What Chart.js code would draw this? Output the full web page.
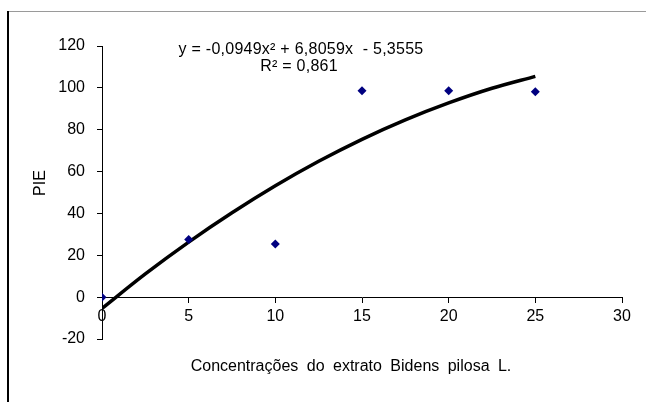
<!DOCTYPE html>
<html>
<head>
<meta charset="utf-8">
<script src="https://cdn.jsdelivr.net/npm/chart.js@4"></script>
<style>
  html, body { margin: 0; padding: 0; background: #fff; }
  #wrap { width: 646px; height: 402px; position: relative; }
</style>
</head>
<body>
<div id="wrap"><canvas id="pieChart" width="646" height="402"></canvas></div>
<script>
// observed PIE values per concentration
const concentrations = [0, 5, 10, 15, 20, 25];
const pieValues = [0, 27.6, 25.4, 98.6, 98.6, 98.1];

// polynomial trendline
const trendX = [0, 2.5, 5, 7.5, 10, 12.5, 15, 17.5, 20, 22.5, 25];
const trendY = [-5.4, 11.1, 26.3, 40.3, 53.2, 64.9, 75.4, 84.7, 92.8, 99.8, 105.5];

const xTicks = [0, 5, 10, 15, 20, 25, 30];
const yTicks = [-20, 0, 20, 40, 60, 80, 100, 120];

const equationText = "y = -0,0949x² + 6,8059x  - 5,3555";
const r2Text = "R² = 0,861";
const xTitle = "Concentrações do extrato Bidens pilosa L.";
const yTitle = "PIE";

const FONT = "'Liberation Sans', Arial, sans-serif";

const pointsData = concentrations.map((x, i) => ({ x: x, y: pieValues[i] }));
const trendData = trendX.map((x, i) => ({ x: x, y: trendY[i] }));

const extras = {
    id: "extras",
    beforeDraw(chart) {
        const ctx = chart.ctx;
        ctx.save();
        ctx.fillStyle = "#fff";
        ctx.fillRect(0, 0, chart.width, chart.height);
        // frame bits
        ctx.strokeStyle = "#9a9a9a";
        ctx.lineWidth = 1;
        ctx.beginPath();
        ctx.moveTo(8, 11.5);
        ctx.lineTo(chart.width, 11.5);
        ctx.stroke();
        ctx.strokeStyle = "#000";
        ctx.lineWidth = 2;
        ctx.beginPath();
        ctx.moveTo(8, 11);
        ctx.lineTo(8, chart.height);
        ctx.stroke();
        ctx.restore();
    },
    afterDraw(chart) {
        const ctx = chart.ctx;
        const area = chart.chartArea;
        ctx.save();
        ctx.fillStyle = "#000";
        ctx.font = "16px " + FONT;
        ctx.textAlign = "center";
        ctx.textBaseline = "middle";
        if ("letterSpacing" in ctx) ctx.letterSpacing = "0.25px";
        ctx.fillText(equationText, area.left + 199, area.top + 4);
        ctx.fillText(r2Text, area.left + 197, area.top + 21);
        if ("letterSpacing" in ctx) ctx.letterSpacing = "0px";
        // y axis title
        ctx.save();
        ctx.translate(41, 183);
        ctx.rotate(-Math.PI / 2);
        ctx.fillText(yTitle, 0, 0);
        ctx.restore();
        if ("wordSpacing" in ctx) ctx.wordSpacing = "4px";
        ctx.fillText(xTitle, 351, area.bottom + 28);
        ctx.restore();
    }
};

new Chart(
    document.getElementById("pieChart"),
    {
        type: "scatter",

        data: {
            datasets: [
                {
                    label: "PIE",
                    data: pointsData,
                    pointStyle: "rectRot",
                    pointRadius: 4.5,
                    backgroundColor: "#000080",
                    borderColor: "#000080",
                    borderWidth: 0,
                    order: 1
                },
                {
                    label: "Polinomial",
                    data: trendData,
                    showLine: true,
                    borderColor: "#000",
                    borderWidth: 3.5,
                    pointRadius: 0,
                    cubicInterpolationMode: "monotone",
                    fill: false,
                    order: 2
                }
            ]
        },

        options: {
            responsive: false,
            animation: false,
            events: [],
            layout: {
                padding: { left: 0, right: 24, top: 46, bottom: 63 }
            },
            plugins: {
                legend: { display: false },
                tooltip: { enabled: false }
            },
            scales: {
                x: {
                    type: "linear",
                    position: { y: 0 },
                    min: 0,
                    max: 30,
                    afterBuildTicks: (scale) => {
                        scale.ticks = xTicks.map(v => ({ value: v }));
                    },
                    grid: {
                        drawOnChartArea: false,
                        drawTicks: true,
                        tickLength: 5,
                        color: "#000"
                    },
                    border: { color: "#000", width: 1 },
                    ticks: {
                        color: "#000",
                        padding: 5,
                        font: { family: FONT, size: 16 }
                    }
                },
                y: {
                    type: "linear",
                    position: "left",
                    min: -20,
                    max: 120,
                    afterBuildTicks: (scale) => {
                        scale.ticks = yTicks.map(v => ({ value: v }));
                    },
                    afterFit: (scale) => {
                        scale.width = 102;
                    },
                    grid: {
                        drawOnChartArea: false,
                        drawTicks: true,
                        tickLength: 5,
                        color: "#000"
                    },
                    border: { color: "#000", width: 1 },
                    ticks: {
                        color: "#000",
                        padding: 12,
                        font: { family: FONT, size: 16 }
                    }
                }
            }
        },

        plugins: [extras]
    }
);
</script>
</body>
</html>
